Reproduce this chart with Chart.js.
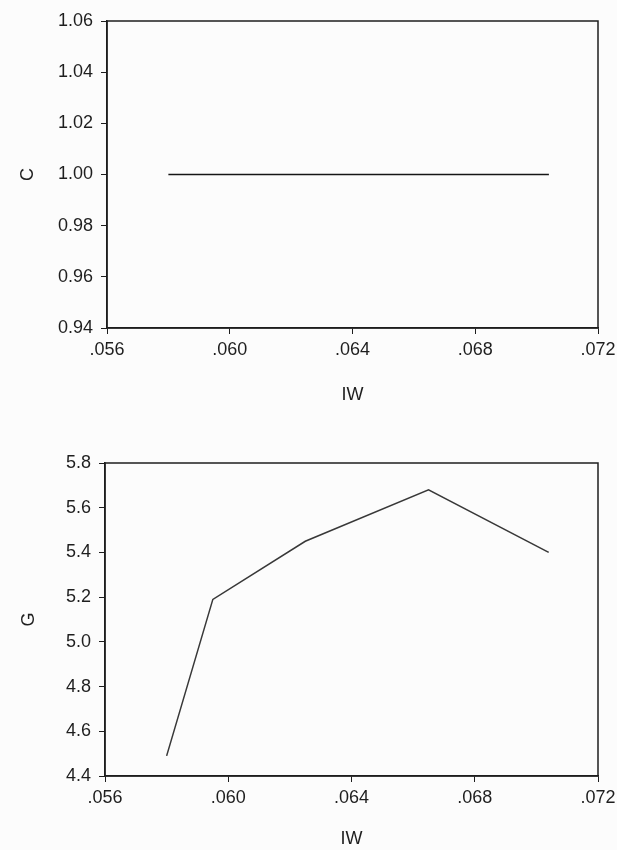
<!DOCTYPE html>
<html lang="en">
<head>
  <meta charset="UTF-8">
  <title>C and G against IW</title>
  <script src="https://cdn.jsdelivr.net/npm/chart.js"></script>
  <style>
    body { margin: 0; background: #fcfcfc; overflow: hidden; }
    .wrap { position: absolute; left: 0; width: 617px; }
    #top { top: 0; height: 415px; }
    #bottom { top: 440px; height: 410px; }
  </style>
</head>
<body>
  <div class="wrap" id="top"><canvas id="chartC"></canvas></div>
  <div class="wrap" id="bottom"><canvas id="chartG"></canvas></div>

  <script>
    // values
    const iw = [0.0580, 0.0595, 0.0625, 0.0665, 0.0704];
    const cValues = [1.000, 1.000, 1.000, 1.000, 1.000];
    const gValues = [4.49, 5.19, 5.45, 5.68, 5.40];
    const xTicks = [0.056, 0.060, 0.064, 0.068, 0.072];

    const ink = '#1e1e1e';
    const font = { family: 'Liberation Sans, Arial, sans-serif', size: 18 };

    // box round the plot area
    const frame = {
      id: 'frame',
      afterDraw(chart) {
        const a = chart.chartArea, ctx = chart.ctx;
        ctx.save();
        ctx.strokeStyle = ink;
        ctx.lineWidth = 1.5;
        ctx.strokeRect(a.left, a.top, a.right - a.left, a.bottom - a.top);
        ctx.restore();
      }
    };

    function makeChart(id, yTitle, values, yMin, yMax, yStep, digits, pad, yWidth, xHeight, titleBottom, lineColor) {
      const ctx = document.getElementById(id).getContext('2d');
      return new Chart(ctx, {
        type: 'scatter',
        data: {
          datasets: [{
            data: iw.map((x, i) => ({ x: x, y: values[i] })),
            showLine: true,
            borderColor: lineColor,
            borderWidth: 1.5,
            pointRadius: 0,
            tension: 0
          }]
        },
        options: {
          responsive: true,
          maintainAspectRatio: false,
          animation: false,
          layout: { padding: pad },
          plugins: { legend: { display: false }, tooltip: { enabled: false } },
          scales: {
            x: {
              type: 'linear',
              min: 0.056,
              max: 0.072,
              afterBuildTicks: s => { s.ticks = xTicks.map(v => ({ value: v })); },
              afterFit: s => { s.height = xHeight; s.paddingRight = 19; s.paddingLeft = 0; },
              ticks: {
                color: ink, font: font, padding: 5, maxRotation: 0,
                callback: v => v.toFixed(3).replace(/^0/, '')
              },
              grid: { drawOnChartArea: false, drawTicks: true, tickLength: 6, color: ink },
              border: { display: true, color: ink, width: 1.5 },
              title: { display: true, text: 'IW', color: ink, font: font, padding: { top: 4, bottom: titleBottom } }
            },
            y: {
              min: yMin,
              max: yMax,
              afterFit: s => { s.width = yWidth; },
              ticks: {
                stepSize: yStep, color: ink, font: font, padding: 8,
                callback: v => v.toFixed(digits)
              },
              grid: { drawOnChartArea: false, drawTicks: true, tickLength: 6, color: ink },
              border: { display: true, color: ink, width: 1.5 },
              title: { display: true, text: yTitle, color: ink, font: font, padding: { top: 4, bottom: 4 } }
            }
          }
        },
        plugins: [frame]
      });
    }

    makeChart('chartC', 'C', cValues, 0.94, 1.06, 0.02, 2,
      { top: 21, right: 0, left: 13, bottom: 5 }, 94, 82, 4, '#161616');
    makeChart('chartG', 'G', gValues, 4.4, 5.8, 0.2, 1,
      { top: 23, right: 0, left: 14, bottom: 0 }, 91, 74, 0, '#383838');
  </script>
</body>
</html>
